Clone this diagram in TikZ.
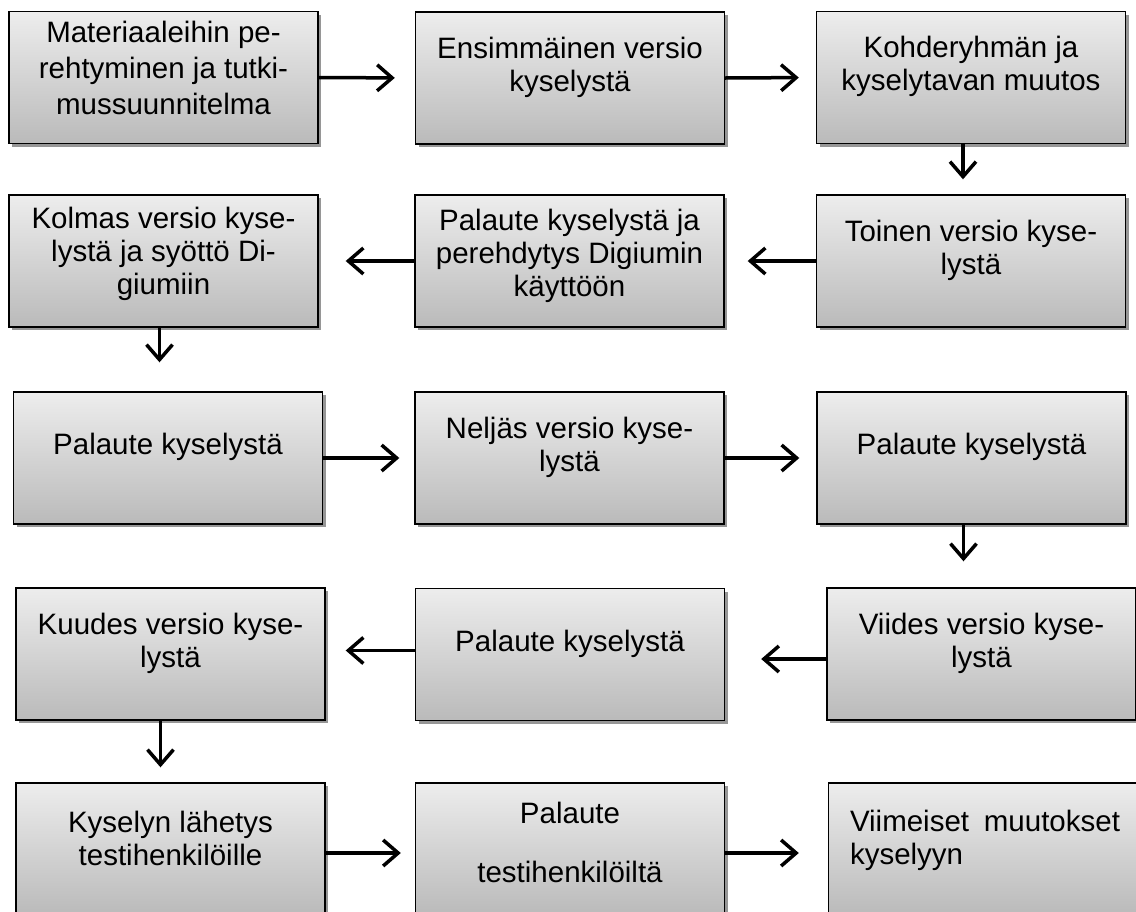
\documentclass[tikz,border=0pt]{standalone}
\usepackage{fontspec}
\setmainfont{Liberation Sans}
\usetikzlibrary{arrows.meta,shadows}
\definecolor{boxtop}{RGB}{237,237,237}
\definecolor{boxbot}{RGB}{186,186,186}
\definecolor{shadowgray}{RGB}{150,150,150}
\begin{document}
\begin{tikzpicture}[x=1pt,y=-1pt,
  stepbox/.style={draw=black, line width=1.4pt, minimum width=309pt, minimum height=132pt,
    top color=boxtop, bottom color=boxbot,
    drop shadow={shadow xshift=3pt, shadow yshift=-3pt, fill=shadowgray, opacity=1}},
  steptext/.style={align=center, inner sep=0pt, font=\fontsize{29.5}{33}\selectfont},
  flow/.style={line width=3.5pt, -{Straight Barb[length=15pt,width=26pt]}, shorten >=20pt}]
\useasboundingbox (0,0) rectangle (1136,911);
\clip (0,0) rectangle (1136,911);
\fill[white] (0,0) rectangle (1136,911);

\node[stepbox] (b1) at (163.5,77.5) {};
\node[stepbox] (b2) at (570,78) {};
\node[stepbox] (b3) at (971,77.5) {};
\node[stepbox] (b4) at (971,261) {};
\node[stepbox] (b5) at (569.5,261) {};
\node[stepbox] (b6) at (163.5,261) {};
\node[stepbox] (b7) at (168,458) {};
\node[stepbox] (b8) at (569.5,458) {};
\node[stepbox] (b9) at (971.5,458) {};
\node[stepbox] (b10) at (981.5,654) {};
\node[stepbox] (b11) at (570,654.5) {};
\node[stepbox] (b12) at (170.5,654) {};
\node[stepbox] (b13) at (170.5,849) {};
\node[stepbox] (b14) at (570,849) {};
\node[stepbox] (b15) at (983,849) {};

\node[steptext, font=\fontsize{29.5}{36}\selectfont] (t1) at ([yshift=10pt]b1.center) {Materiaaleihin pe-\\rehtyminen ja tutki-\\mussuunnitelma};
\node[steptext] (t2) at ([yshift=11pt]b2.center) {Ensimmäinen versio\\kyselystä};
\node[steptext] (t3) at ([yshift=11pt]b3.center) {Kohderyhmän ja\\kyselytavan muutos};
\node[steptext] (t4) at ([yshift=11pt]b4.center) {Toinen versio kyse-\\lystä};
\node[steptext] (t5) at ([yshift=5pt]b5.center) {Palaute kyselystä ja\\perehdytys Digiumin\\käyttöön};
\node[steptext] (t6) at ([yshift=7pt]b6.center) {Kolmas versio kyse-\\lystä ja syöttö Di-\\giumiin};
\node[steptext] (t7) at ([yshift=11pt]b7.center) {Palaute kyselystä};
\node[steptext] (t8) at ([yshift=11pt]b8.center) {Neljäs versio kyse-\\lystä};
\node[steptext] (t9) at ([yshift=11pt]b9.center) {Palaute kyselystä};
\node[steptext] (t10) at ([yshift=11pt]b10.center) {Viides versio kyse-\\lystä};
\node[steptext] (t11) at ([yshift=11pt]b11.center) {Palaute kyselystä};
\node[steptext] (t12) at ([yshift=11pt]b12.center) {Kuudes versio kyse-\\lystä};
\node[steptext] (t13) at ([yshift=11pt]b13.center) {Kyselyn lähetys\\testihenkilöille};
\node[steptext] (t14) at ([yshift=7pt]b14.center) {Palaute\\[26pt]testihenkilöiltä};
\node[steptext, align=left, anchor=west] (t15) at ([xshift=22pt,yshift=9pt]b15.west) {\makebox[270pt][s]{Viimeiset muutokset}\\kyselyyn};

\draw[flow] (b1.east) -- (b2.west);
\draw[flow, shorten >=17pt] (b2.east) -- (b3.west);
\draw[flow, shorten >=15pt] ([xshift=-8pt]b3.south) -- ([xshift=-8pt]b3.south |- b4.north);
\draw[flow, shorten >=23pt] (b4.west) -- (b5.east);
\draw[flow, shorten >=27pt] (b5.west) -- (b6.east);
\draw[flow, shorten >=29pt] ([xshift=-4pt]b6.south) -- ([xshift=-4pt]b6.south |- b7.north);
\draw[flow, shorten >=15pt] (b7.east) -- (b8.west);
\draw[flow, shorten >=17pt] (b8.east) -- (b9.west);
\draw[flow, shorten >=26pt] ([xshift=-8pt]b9.south) -- ([xshift=-8pt]b9.south |- b10.north);
\draw[flow, shorten >=36pt] ([yshift=-5pt]b10.west) -- ([yshift=-5pt]b10.west -| b11.east);
\draw[flow] ([yshift=4pt]b11.west) -- ([yshift=4pt]b11.west -| b12.east);
\draw[flow, shorten >=15pt] ([xshift=-10pt]b12.south) -- ([xshift=-10pt]b12.south |- b13.north);
\draw[flow, shorten >=14pt] ([yshift=-4pt]b13.east) -- ([yshift=-4pt]b13.east -| b14.west);
\draw[flow, shorten >=29pt] ([yshift=-4pt]b14.east) -- ([yshift=-4pt]b14.east -| b15.west);
\end{tikzpicture}
\end{document}
